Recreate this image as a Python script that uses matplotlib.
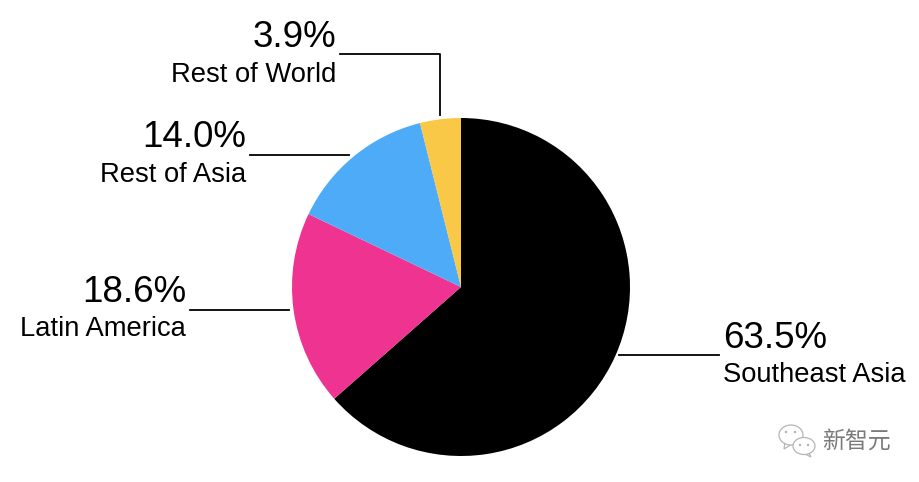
import matplotlib
matplotlib.use("Agg")
import matplotlib.pyplot as plt
from matplotlib.patches import Ellipse, Polygon

regions = ["Southeast Asia", "Latin America", "Rest of Asia", "Rest of World"]
shares = [63.5, 18.6, 14.0, 3.9]
colours = ["#000000", "#ee3490", "#4dabf7", "#f9c846"]
watermark = "新智元"

W, H = 920, 482
plt.rcParams["font.family"] = ["Liberation Sans", "DejaVu Sans"]

fig = plt.figure(figsize=(W / 100, H / 100), dpi=100)
ax = fig.add_axes([0, 0, 1, 1])
ax.set_xlim(0, W)
ax.set_ylim(H, 0)
ax.axis("off")

# pie in its own axes so the circle sits where it does in the original
cx, cy, r = 461, 287, 169
pie_ax = fig.add_axes([(cx - r) / W, 1 - (cy + r) / H, 2 * r / W, 2 * r / H])
pie_ax.pie(shares, colors=colours, startangle=90, counterclock=False, radius=1)
pie_ax.set_xlim(-1, 1)
pie_ax.set_ylim(-1, 1)

# label anchors: text x, pct y, name y, leader line
labels = [
    (723, 338.5, 375.5, "left", [(619, 355), (719, 355)]),
    (186, 292.5, 329.5, "right", [(190, 310), (289, 310)]),
    (246, 137.5, 175.5, "right", [(250, 155), (349, 155)]),
    (336, 37.5, 74.5, "right", [(340, 54), (440, 54), (440, 115)]),
]
for (x, y1, y2, ha, line), name, val in zip(labels, regions, shares):
    ax.text(x, y1, f"{val:.1f}%", fontsize=26.5, ha=ha, va="center", color="black")
    ax.text(x, y2, name, fontsize=19.7, ha=ha, va="center", color="black")
    ax.plot([p[0] for p in line], [p[1] for p in line], color="black", lw=1.3)

# wechat logo, two outlined bubbles
grey = "#b5b5b5"
ax.add_patch(Polygon([(785, 442), (784, 449), (792, 444)], fc="white", ec=grey, lw=0.9))
ax.add_patch(Ellipse((791, 435), 24, 20, fc="white", ec=grey, lw=0.9))
ax.add_patch(Polygon([(808, 451), (811, 457), (803, 453)], fc="white", ec=grey, lw=0.9))
ax.add_patch(Ellipse((804, 446), 22, 17, fc="white", ec=grey, lw=0.9))
for dot in [(786, 432), (795, 432), (800, 445), (808, 445)]:
    ax.add_patch(Ellipse(dot, 2.5, 2.5, fc=grey, ec="none"))

ax.text(822, 441, watermark, fontsize=16.5, color="#7a7a7a", va="center",
        family=["Noto Sans CJK SC", "DejaVu Sans"])

fig.savefig("out.png", dpi=100)
